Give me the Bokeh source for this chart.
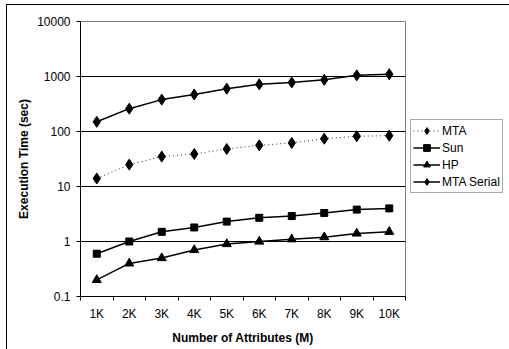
from bokeh.plotting import figure
from bokeh.layouts import row
from bokeh.models import FixedTicker, CustomJSTickFormatter, Legend, LegendItem, Range1d
from bokeh.embed import file_html
from bokeh.resources import INLINE

categories = ["1K", "2K", "3K", "4K", "5K", "6K", "7K", "8K", "9K", "10K"]
mta = [14, 25, 35, 39, 48, 56, 62, 74, 82, 84]
sun = [0.6, 1.0, 1.5, 1.8, 2.3, 2.7, 2.9, 3.3, 3.8, 4.0]
hp = [0.2, 0.4, 0.5, 0.7, 0.9, 1.0, 1.1, 1.2, 1.4, 1.5]
mta_serial = [150, 260, 380, 470, 600, 720, 780, 870, 1050, 1100]
series_names = ["MTA", "Sun", "HP", "MTA Serial"]
y_ticks = [0.1, 1, 10, 100, 1000, 10000]

xs = list(range(1, len(categories) + 1))
FONT = "Liberation Sans"

p = figure(width=399, height=345, y_axis_type="log", output_backend="svg",
           toolbar_location=None, x_range=Range1d(0.5, len(categories) + 0.5),
           y_range=Range1d(y_ticks[0], y_ticks[-1]),
           min_border_left=73, min_border_top=16, min_border_right=1, min_border_bottom=54)

p.outline_line_color = "#808080"
p.outline_line_width = 1

# x axis
p.xaxis.ticker = FixedTicker(ticks=xs, minor_ticks=[x - 0.5 for x in xs] + [xs[-1] + 0.5])
p.xaxis.major_label_overrides = {x: c for x, c in zip(xs, categories)}
p.xaxis.major_tick_line_color = None
p.xaxis.minor_tick_line_color = "black"
p.xaxis.minor_tick_out = 4
p.xaxis.minor_tick_in = 0
p.xaxis.axis_line_color = "black"
p.xaxis.major_label_standoff = 4
p.xaxis.axis_label = "Number of Attributes (M)"
p.xaxis.axis_label_standoff = 7
p.xgrid.grid_line_color = None

# y axis
p.yaxis.ticker = FixedTicker(ticks=y_ticks, minor_ticks=[])
p.yaxis.formatter = CustomJSTickFormatter(code="return String(Number(tick.toPrecision(6)));")
p.yaxis.major_tick_out = 4
p.yaxis.major_tick_in = 0
p.yaxis.major_tick_line_color = "black"
p.yaxis.minor_tick_line_color = None
p.yaxis.axis_line_color = "black"
p.yaxis.major_label_standoff = 6
p.yaxis.axis_label = "Execution Time (sec)"
p.yaxis.axis_label_standoff = 3
p.ygrid.grid_line_color = "black"
p.ygrid.grid_line_width = 1

for ax in (p.xaxis, p.yaxis):
    ax.major_label_text_font = FONT
    ax.major_label_text_font_size = "12px"
    ax.major_label_text_color = "black"
    ax.axis_label_text_font = FONT
    ax.axis_label_text_font_size = "12px"
    ax.axis_label_text_font_style = "bold"
    ax.axis_label_text_color = "black"

styles = [
    dict(marker="diamond", size=11, line_color="#333333", line_width=1, line_dash="1 3"),
    dict(marker="square", size=7, line_color="black", line_width=1.5, line_dash="solid"),
    dict(marker="triangle", size=9, line_color="black", line_width=1.5, line_dash="solid"),
    dict(marker="diamond", size=11, line_color="black", line_width=1.5, line_dash="solid"),
]
series = [mta, sun, hp, mta_serial]

for vals, st in zip(series, styles):
    p.line(xs, vals, line_color=st["line_color"], line_width=st["line_width"], line_dash=st["line_dash"])
    p.scatter(xs, vals, marker=st["marker"], size=st["size"], color="black")

# legend panel: same series drawn off-range so only the legend shows
lp = figure(width=103, height=345, output_backend="svg", toolbar_location=None,
            x_axis_location=None, y_axis_location=None,
            x_range=Range1d(1000, 1001), y_range=Range1d(1000, 1001),
            min_border=0, min_border_left=0, min_border_right=0, min_border_top=0, min_border_bottom=0)
lp.outline_line_color = None
lp.xgrid.grid_line_color = None
lp.ygrid.grid_line_color = None

items = []
for name, vals, st in zip(series_names, series, styles):
    rl = lp.line(xs, vals, line_color=st["line_color"], line_width=st["line_width"], line_dash=st["line_dash"])
    rm = lp.scatter(xs, vals, marker=st["marker"], size=st["size"], color="black")
    items.append(LegendItem(label=name, renderers=[rl, rm]))

legend = Legend(items=items, location=(4, 103))
legend.margin = 0
legend.padding = 2
legend.spacing = 0
legend.label_standoff = 2
legend.glyph_width = 27
legend.glyph_height = 17
legend.label_height = 17
legend.label_text_font = FONT
legend.label_text_font_size = "12px"
legend.label_text_color = "black"
legend.border_line_color = "#555555"
legend.border_line_width = 1
legend.background_fill_alpha = 0
lp.add_layout(legend, "center")

layout = row(p, lp, spacing=0)
layout.margin = (4, 0, 0, 6)
layout.styles = {"border-left": "1px solid black", "border-top": "1px solid black"}

open("out.html", "w").write(file_html(layout, INLINE))
